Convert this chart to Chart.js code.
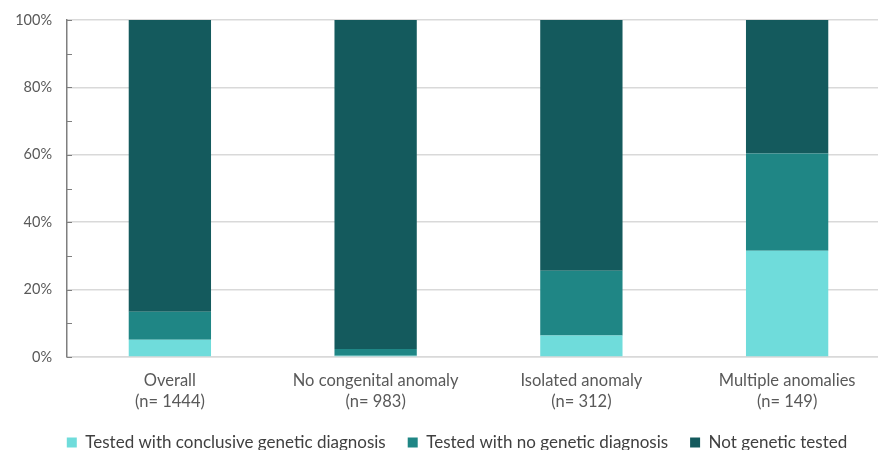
<!DOCTYPE html>
<html>
<head>
<meta charset="utf-8">
<script src="https://cdn.jsdelivr.net/npm/chart.js@4/dist/chart.umd.min.js"></script>
<style>
  html, body { margin: 0; padding: 0; background: #ffffff; overflow: hidden; }
  #wrap { width: 914px; height: 461px; }
</style>
</head>
<body>
<div id="wrap"><canvas id="chart" width="914" height="461"></canvas></div>
<script>
// Patient groups shown along the x axis (two-line labels)
const categories = [
  ['Overall', '(n= 1444)'],
  ['No congenital anomaly', '(n= 983)'],
  ['Isolated anomaly', '(n= 312)'],
  ['Multiple anomalies', '(n= 149)']
];

// Share of each group (%) by genetic testing outcome
const conclusiveDiagnosis = [5.1, 0.4, 6.4, 31.5];
const noGeneticDiagnosis  = [8.3, 2.0, 19.2, 28.9];
const notTested           = [86.6, 97.6, 74.4, 39.6];

const seriesNames = [
  'Tested with conclusive genetic diagnosis',
  'Tested with no genetic diagnosis',
  'Not genetic tested'
];

const FONT = 'Lato, "Open Sans", sans-serif';

// Short inward tick marks on the y axis every 10%
const innerTicks = {
  id: 'innerTicks',
  afterDraw(chart) {
    const y = chart.scales.y;
    const ctx = chart.ctx;
    ctx.save();
    ctx.strokeStyle = '#7f7f7f';
    ctx.lineWidth = 1;
    for (let v = 0; v <= 100; v += 10) {
      const py = Math.round(y.getPixelForValue(v)) + 0.5;
      ctx.beginPath();
      ctx.moveTo(y.right, py);
      ctx.lineTo(y.right + 5, py);
      ctx.stroke();
    }
    ctx.restore();
  }
};

// Nudge the legend row a little to the right
const legendShift = {
  id: 'legendShift',
  afterLayout(chart) {
    if (chart.legend) {
      chart.legend.left += 12;
      chart.legend.right += 12;
    }
  }
};

const barStyle = {
  barPercentage: 0.4,
  categoryPercentage: 1.0,
  borderWidth: 0,
  borderSkipped: false
};

new Chart(document.getElementById('chart'), {
  type: 'bar',
  data: {
    labels: categories,
    datasets: [
      Object.assign({ label: seriesNames[0], data: conclusiveDiagnosis, backgroundColor: '#6fdcdb' }, barStyle),
      Object.assign({ label: seriesNames[1], data: noGeneticDiagnosis,  backgroundColor: '#1f8685' }, barStyle),
      Object.assign({ label: seriesNames[2], data: notTested,           backgroundColor: '#145a5d' }, barStyle)
    ]
  },
  options: {
    responsive: false,
    animation: false,
    layout: { padding: { top: 20, left: 0, right: 24, bottom: 0 } },
    plugins: {
      tooltip: { enabled: false },
      legend: {
        position: 'bottom',
        labels: {
          boxWidth: 10,
          boxHeight: 10,
          padding: 22,
          color: '#404040',
          font: { family: FONT, size: 17 }
        }
      }
    },
    scales: {
      x: {
        stacked: true,
        grid: { display: false, drawTicks: false },
        border: { display: true, color: '#d9d9d9', width: 1.5 },
        ticks: {
          color: '#595959',
          padding: 13,
          maxRotation: 0,
          font: { family: FONT, size: 16.5, lineHeight: 1.27 }
        },
        afterFit(scale) { scale.height = 55; }
      },
      y: {
        stacked: true,
        min: 0,
        max: 100,
        afterFit(scale) {
          scale.width = 67;
          scale.paddingTop = 0;
          scale.paddingBottom = 0;
        },
        grid: {
          drawTicks: false,
          lineWidth: 1.5,
          color: (c) => (c.tick && c.tick.value % 20 === 0) ? '#d9d9d9' : 'rgba(0,0,0,0)'
        },
        border: { display: true, color: '#7f7f7f', width: 1.5 },
        ticks: {
          stepSize: 10,
          padding: 15,
          color: '#595959',
          font: { family: FONT, size: 14.5 },
          callback: (v) => (v % 20 === 0 ? v + '%' : '')
        }
      }
    }
  },
  plugins: [innerTicks, legendShift]
});
</script>
</body>
</html>
